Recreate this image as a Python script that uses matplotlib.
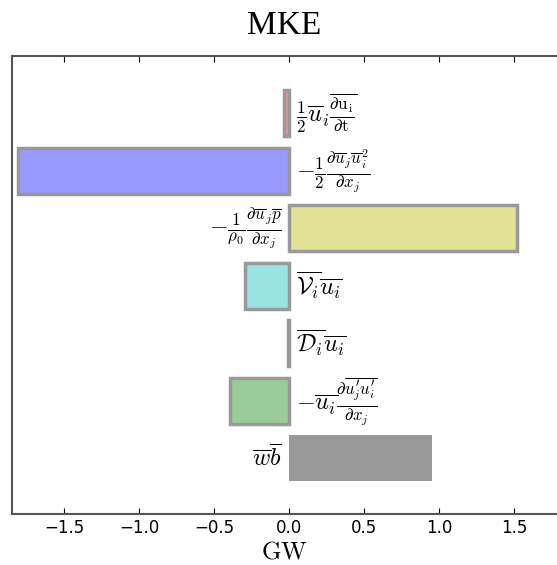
import matplotlib
matplotlib.use('Agg')
import matplotlib.pyplot as plt

plt.rcParams['mathtext.fontset'] = 'cm'

# MKE budget terms (GW)
terms = [
    r'$\frac{1}{2}\overline{u}_i\overline{\frac{\partial \mathrm{u_i}}{\partial \mathrm{t}}}$',
    r'$-\frac{1}{2}\frac{\partial \overline{u}_j \overline{u}_i^2}{\partial x_j}$',
    r'$-\frac{1}{\rho_0}\frac{\partial \overline{u}_j \overline{p}}{\partial x_j}$',
    r'$\overline{\mathcal{V}_i}\overline{u_i}$',
    r'$\overline{\mathcal{D}_i}\overline{u_i}$',
    r'$-\overline{u_i}\frac{\partial \overline{u_j^\prime u_i^\prime}}{\partial x_j}$',
    r'$\overline{w}\overline{b}$',
]
values = [-0.03, -1.81, 1.52, -0.29, -0.005, -0.39, 0.955]
colors = ['#f09090', '#9999ff', '#e3e396', '#99e3e3', '#cccccc', '#99cc99', '#999999']
edges = ['#999999'] * 6 + ['none']

fig = plt.figure(figsize=(5.57, 5.65), dpi=100)
ax = fig.add_axes([0.0215, 0.0903, 0.9785, 0.8106])

pos = list(range(len(values)))
ax.barh(pos, values, height=0.8, color=colors, edgecolor=edges, linewidth=2.5)

for p, v, t in zip(pos, values, terms):
    if v > 0:
        ax.text(-0.05, p, t, ha='right', va='center', fontsize=17.5)
    else:
        ax.text(0.05, p, t, ha='left', va='center', fontsize=17.5)

ax.set_ylim(6.97, -1.0)
ax.set_xlim(-1.847, 1.787)
ax.set_yticks([])
ax.set_xticks([-1.5, -1.0, -0.5, 0.0, 0.5, 1.0, 1.5])
ax.tick_params(axis='x', direction='in', top=True, labelsize=12, length=4)
ax.spines['right'].set_visible(False)
for s in ['left', 'top', 'bottom']:
    ax.spines[s].set_color('#555555')
    ax.spines[s].set_linewidth(1.5)

ax.set_xlabel(r'$\mathrm{GW}$', fontsize=18, labelpad=2)
ax.set_title('MKE', fontsize=24, family='Liberation Serif', pad=16)

fig.savefig('out.png', dpi=100)
